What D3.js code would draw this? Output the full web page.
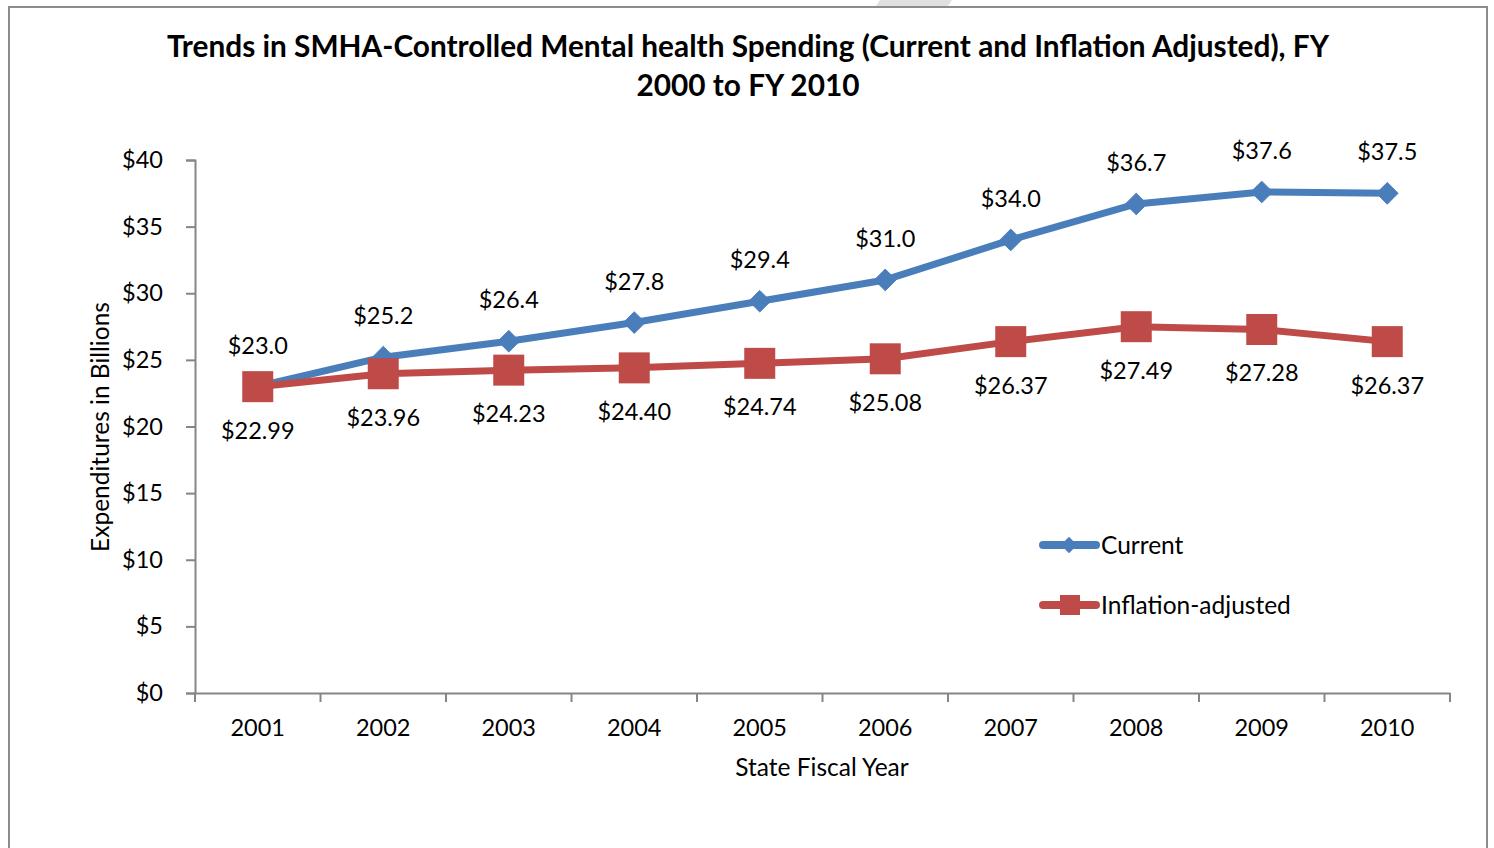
<!DOCTYPE html>
<html>
<head>
<meta charset="utf-8">
<script src="https://cdn.jsdelivr.net/npm/d3@7"></script>
<style>
body { margin: 0; background: #fff; }
svg { font-family: Lato, "Open Sans", sans-serif; }
</style>
</head>
<body>
<svg width="1494" height="848"></svg>
<script>
var svg = d3.select("svg");

// data
const years = ["2001", "2002", "2003", "2004", "2005", "2006", "2007", "2008", "2009", "2010"];
const current = [23.0, 25.2, 26.4, 27.8, 29.4, 31.0, 34.0, 36.7, 37.6, 37.5];
const adjusted = [22.99, 23.96, 24.23, 24.40, 24.74, 25.08, 26.37, 27.49, 27.28, 26.37];
const yTicks = [0, 5, 10, 15, 20, 25, 30, 35, 40];
const titleLines = ["Trends in SMHA-Controlled Mental health Spending (Current and Inflation Adjusted), FY", "2000 to FY 2010"];

const blue = "#4A7EBB";
const red = "#BE4B48";
const axisGray = "#868686";
const numSize = 23.5;
const wordSize = 24.5;

// outer frame
svg.append("rect")
	.attr("x", 9).attr("y", 7)
	.attr("width", 1478).attr("height", 860)
	.attr("fill", "none")
	.attr("stroke", "#8c8c8c")
	.attr("stroke-width", 2);

// bit of the page showing above the frame
svg.append("path")
	.attr("d", "M880,0 L952,0 L948,6 L876,6 Z")
	.attr("fill", "#e0e0e0");

const x = d3.scaleBand().domain(years).range([195, 1450]);
const y = d3.scaleLinear().domain([0, 40]).range([693, 160]);

// title
svg.append("g").selectAll("text")
	.data(titleLines)
	.join("text")
	.attr("x", 748)
	.attr("y", (d, i) => 57 + i * 39)
	.attr("text-anchor", "middle")
	.attr("font-size", 29.8)
	.attr("font-weight", "bold")
	.attr("fill", "#000")
	.text(d => d);

// y axis
const yAxis = svg.append("g")
	.attr("transform", "translate(195,0)")
	.call(d3.axisLeft(y).tickValues(yTicks).tickSize(9).tickPadding(23).tickFormat(d => "$" + d));
yAxis.select(".domain").attr("stroke", axisGray).attr("stroke-width", 2);
yAxis.selectAll(".tick line").attr("stroke", axisGray).attr("stroke-width", 2);
yAxis.selectAll(".tick text").attr("font-size", numSize).attr("fill", "#000").attr("font-family", "Lato, sans-serif");

// x axis
const xAxis = svg.append("g")
	.attr("transform", "translate(0,693)")
	.call(d3.axisBottom(x).tickSize(0).tickPadding(26));
xAxis.select(".domain").attr("stroke", axisGray).attr("stroke-width", 2);
xAxis.selectAll(".tick text").attr("font-size", numSize).attr("fill", "#000").attr("font-family", "Lato, sans-serif");
xAxis.selectAll(".sep")
	.data(years.concat(["end"]))
	.join("line")
	.attr("x1", (d, i) => i < years.length ? x(d) : x.range()[1])
	.attr("x2", (d, i) => i < years.length ? x(d) : x.range()[1])
	.attr("y1", 0).attr("y2", 9)
	.attr("stroke", axisGray)
	.attr("stroke-width", 2);

// axis titles
svg.append("text")
	.attr("transform", "translate(109,427) rotate(-90)")
	.attr("text-anchor", "middle")
	.attr("font-size", wordSize)
	.text("Expenditures in Billions");

svg.append("text")
	.attr("x", 822).attr("y", 776)
	.attr("text-anchor", "middle")
	.attr("font-size", wordSize)
	.text("State Fiscal Year");

const cx = d => x(d) + x.bandwidth() / 2;
const line = d3.line().x((d, i) => cx(years[i])).y(d => y(d));

// lines
svg.append("path")
	.datum(current)
	.attr("d", line)
	.attr("fill", "none")
	.attr("stroke", blue)
	.attr("stroke-width", 7)
	.attr("stroke-linejoin", "round");

svg.append("path")
	.datum(adjusted)
	.attr("d", line)
	.attr("fill", "none")
	.attr("stroke", red)
	.attr("stroke-width", 7)
	.attr("stroke-linejoin", "round");

// markers
const diamond = d3.symbol().type(d3.symbolDiamond2).size(300);
svg.append("g").selectAll("path")
	.data(current)
	.join("path")
	.attr("d", diamond)
	.attr("transform", (d, i) => `translate(${cx(years[i])},${y(d)})`)
	.attr("fill", blue)
	.attr("stroke", blue)
	.attr("stroke-width", 1);

svg.append("g").selectAll("rect")
	.data(adjusted)
	.join("rect")
	.attr("x", (d, i) => cx(years[i]) - 15.5)
	.attr("y", d => y(d) - 15.5)
	.attr("width", 31).attr("height", 31)
	.attr("fill", red);

// data labels
svg.append("g").selectAll("text")
	.data(current)
	.join("text")
	.attr("x", (d, i) => cx(years[i]))
	.attr("y", d => y(d) - 33)
	.attr("text-anchor", "middle")
	.attr("font-size", numSize)
	.text(d => "$" + d.toFixed(1));

svg.append("g").selectAll("text")
	.data(adjusted)
	.join("text")
	.attr("x", (d, i) => cx(years[i]))
	.attr("y", d => y(d) + 52)
	.attr("text-anchor", "middle")
	.attr("font-size", numSize)
	.text(d => "$" + d.toFixed(2));

// legend
const legend = svg.append("g");
const items = [
	{ name: "Current", color: blue, mark: "diamond", ly: 545 },
	{ name: "Inflation-adjusted", color: red, mark: "square", ly: 605 }
];
items.forEach(it => {
	legend.append("line")
		.attr("x1", 1043).attr("x2", 1096)
		.attr("y1", it.ly).attr("y2", it.ly)
		.attr("stroke", it.color)
		.attr("stroke-width", 8)
		.attr("stroke-linecap", "round");
	if (it.mark === "diamond") {
		legend.append("path")
			.attr("d", d3.symbol().type(d3.symbolDiamond2).size(170)())
			.attr("transform", `translate(1069,${it.ly})`)
			.attr("fill", it.color);
	} else {
		legend.append("rect")
			.attr("x", 1060).attr("y", it.ly - 10)
			.attr("width", 20).attr("height", 20)
			.attr("fill", it.color);
	}
	legend.append("text")
		.attr("x", 1101).attr("y", it.ly + 9)
		.attr("font-size", wordSize)
		.text(it.name);
});
</script>
</body>
</html>
